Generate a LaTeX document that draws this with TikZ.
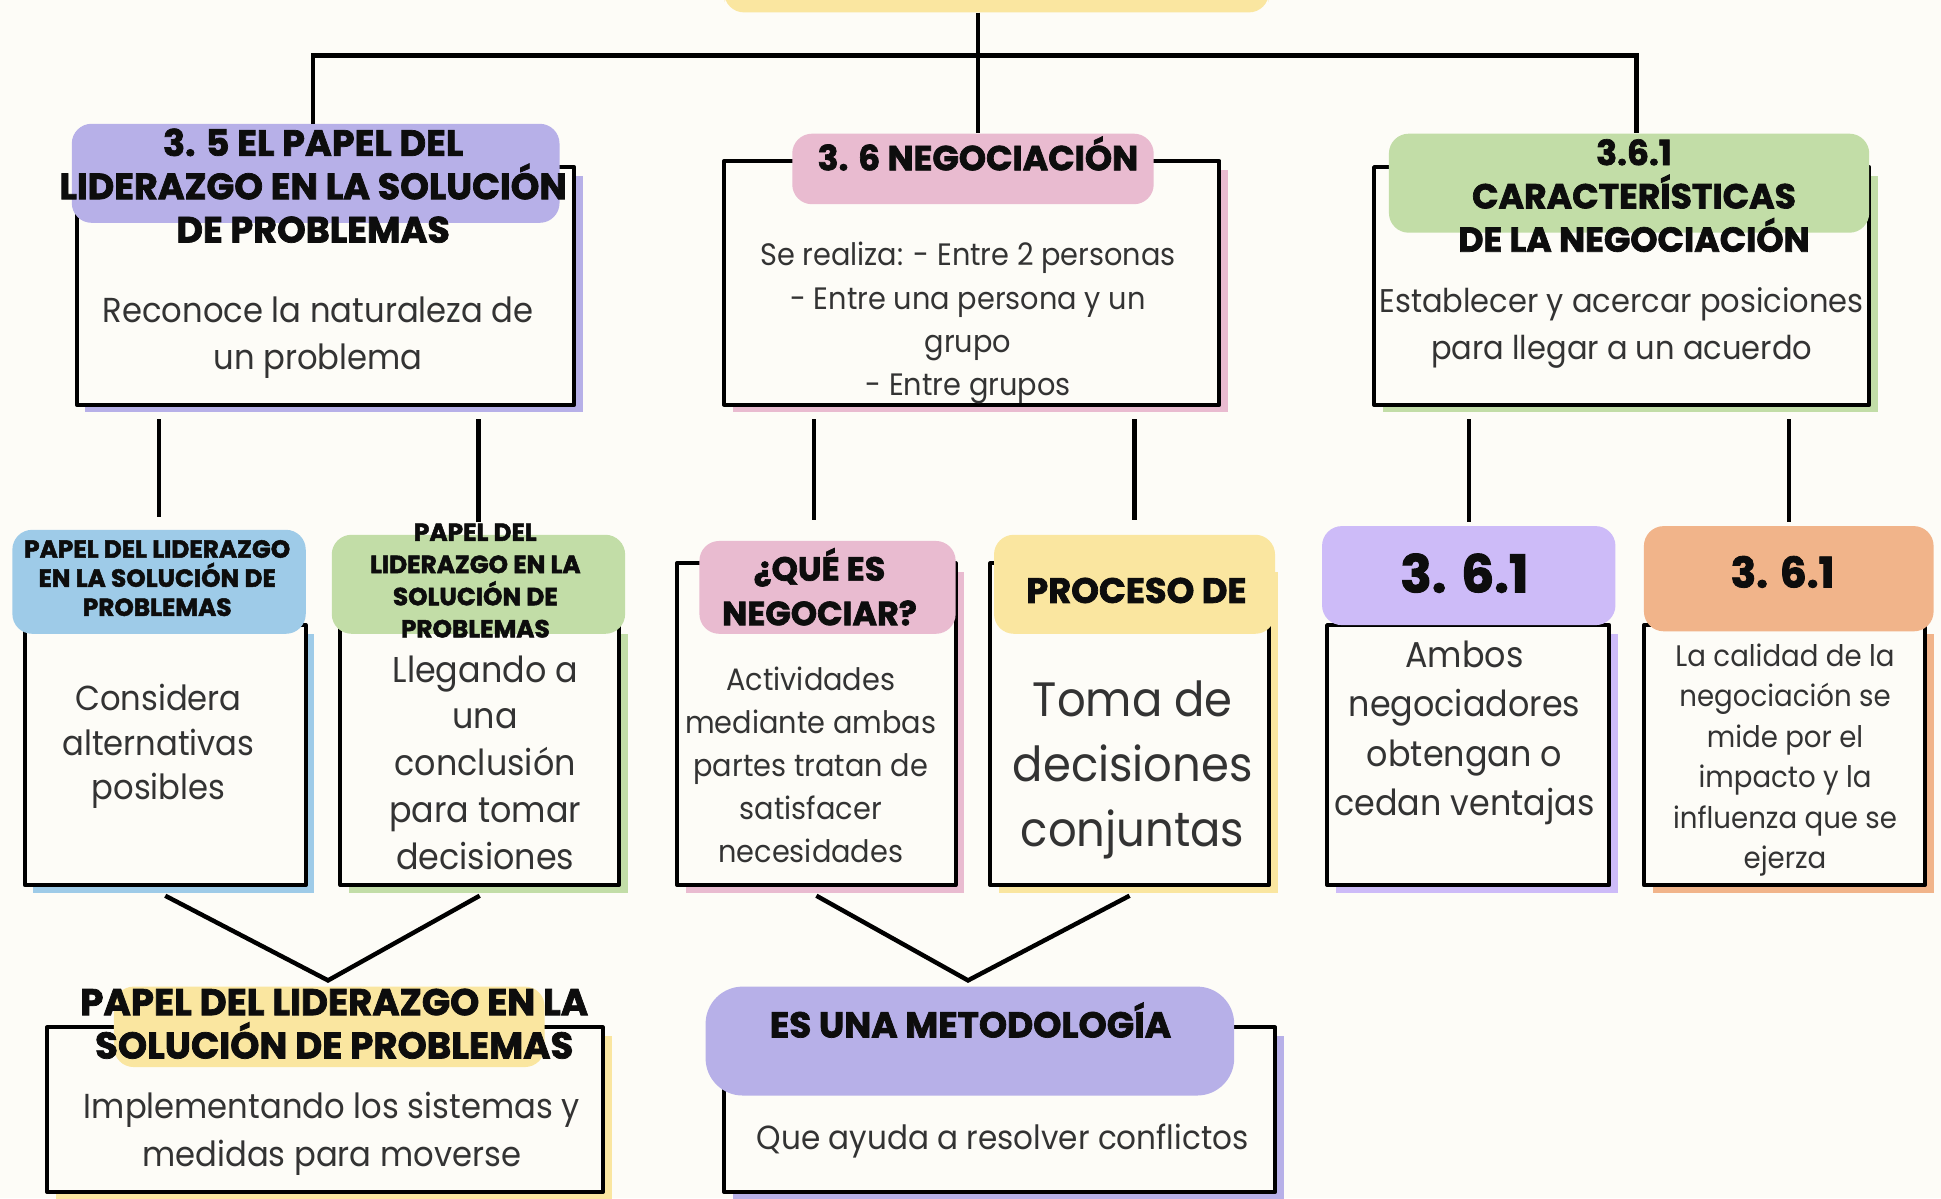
\documentclass[tikz,border=0pt]{standalone}
\usepackage{fontspec}
\setmainfont{Poppins}
\newfontfamily\titlef{Poppins}[FakeStretch=1.0, FakeBold=2]
\newfontfamily\bodyf{Poppins}[FakeStretch=0.93]
\usetikzlibrary{fit,calc}
\definecolor{bgc}{HTML}{FDFCF7}
\definecolor{ink}{HTML}{0D0D0D}
\definecolor{txt}{HTML}{333333}
\definecolor{purpA}{HTML}{B7B0E8}
\definecolor{pinkB}{HTML}{E9BBD0}
\definecolor{greenC}{HTML}{C2DDA7}
\definecolor{blueD}{HTML}{9ECBE8}
\definecolor{yelG}{HTML}{FAE6A0}
\definecolor{lavH}{HTML}{CDBBF8}
\definecolor{orI}{HTML}{F1B48A}
\tikzset{
  frm/.style={draw=black, line width=3.2pt, fill=bgc, inner sep=0pt, line join=round},
  hdr/.style={rounded corners=16pt, inner sep=0pt, draw=none},
  ttl/.style={text=ink, align=center, inner sep=0pt},
  bdy/.style={text=txt, align=center, inner sep=0pt},
  conn/.style={draw=black, line width=3.6pt},
}
\newcommand\mkframe[6]{%
  \fill[#6] (#2+7,#3+7) rectangle (#4+7,#5+6);
  \node[frm, fit={(#2,#3) (#4,#5)}] (#1) {};}
\newcommand\tsz[2]{\titlef\bfseries\fontsize{#1}{#2}\selectfont}
\newcommand\bsz[2]{\bodyf\fontsize{#1}{#2}\selectfont}
\begin{document}
\begin{tikzpicture}[x=1pt,y=-1pt]
\useasboundingbox (0,0) rectangle (1568,968);
\fill[bgc] (0,0) rectangle (1568,968);

% top bar
\node[hdr, fill=yelG, fit={(585,-14) (1025,10)}] (top) {};

% ---------- row 1 ----------
\mkframe{fA}{62}{135}{464}{327}{purpA}
\node[hdr, fill=purpA, fit={(58,100) (452,180)}] (hA) {};
\node[ttl, font=\tsz{29.5}{35}] (tA) at (253,150) {3. 5 EL PAPEL DEL\\LIDERAZGO EN LA SOLUCIÓN\\DE PROBLEMAS};
\node[bdy, font=\bsz{28}{38}] (bA) at (257,273) {Reconoce la naturaleza de\\un problema};

\mkframe{fB}{585}{130}{985}{327}{pinkB}
\node[hdr, fill=pinkB, fit={(640,108) (932,165)}] (hB) {};
\node[ttl, font=\tsz{28}{34}] (tB) at (790,124) {3. 6 NEGOCIACIÓN};
\node[bdy, font=\bsz{25}{35}] (bB) at (782,261) {Se realiza: - Entre 2 personas\\- Entre una persona y un\\grupo\\- Entre grupos};

\mkframe{fC}{1110}{135}{1510}{327}{greenC}
\node[hdr, fill=greenC, fit={(1122,108) (1510,188)}] (hC) {};
\node[ttl, font=\tsz{28}{35}] (tC) at (1320,158) {3.6.1\\CARACTERÍSTICAS\\DE LA NEGOCIACIÓN};
\node[bdy, font=\bsz{26.5}{38}] (bC) at (1310,265) {Establecer y acercar posiciones\\para llegar a un acuerdo};

% top connectors
\coordinate (jn) at (790,45);
\draw[conn] ([xshift=4pt]hB.north |- top.south) -- ([xshift=4pt]hB.north);
\draw[conn] ([xshift=-2pt]hA.north) |- (jn) -| ([xshift=6pt]hC.north);

% ---------- row 2 ----------
\mkframe{fD}{20}{505}{247}{715}{blueD}
\node[hdr, fill=blueD, fit={(10,428) (247,512)}] (hD) {};
\node[ttl, font=\tsz{20}{23.5}] (tD) at (127,467) {PAPEL DEL LIDERAZGO\\EN LA SOLUCIÓN DE\\PROBLEMAS};
\node[bdy, font=\bsz{28}{36}] (bD) at (128,603) {Considera\\alternativas\\posibles};

\mkframe{fE}{275}{505}{500}{715}{greenC}
\node[hdr, fill=greenC, fit={(268,432) (505,512)}] (hE) {};
\node[ttl, font=\tsz{20}{26}] (tE) at (384,469) {PAPEL DEL\\LIDERAZGO EN LA\\SOLUCIÓN DE\\PROBLEMAS};
\node[bdy, font=\bsz{29}{37.75}] (bE) at (392,616) {Llegando a\\una\\conclusión\\para tomar\\decisiones};

\mkframe{fF}{547}{455}{772}{715}{pinkB}
\node[hdr, fill=pinkB, fit={(565,437) (772,512)}] (hF) {};
\node[ttl, font=\tsz{27}{36}] (tF) at (662,474) {¿QUÉ ES\\NEGOCIAR?};
\node[bdy, font=\bsz{25}{34.75}] (bF) at (655,618) {Actividades\\mediante ambas\\partes tratan de\\satisfacer\\necesidades};

\mkframe{fG}{800}{455}{1025}{715}{yelG}
\node[hdr, fill=yelG, fit={(803,432) (1030,512)}] (hG) {};
\node[ttl, font=\tsz{28.5}{34}] (tG) at (918,477) {PROCESO DE};
\node[bdy, font=\bsz{39}{52.5}] (bG) at (915,622) {Toma de\\decisiones\\conjuntas};

\mkframe{fH}{1072}{505}{1300}{715}{lavH}
\node[hdr, fill=lavH, fit={(1068,425) (1305,505)}] (hH) {};
\node[ttl, font=\tsz{42}{46}] (tH) at (1183,463) {3. 6.1};
\node[bdy, font=\bsz{29}{39.7}] (bH) at (1183,592) {Ambos\\negociadores\\obtengan o\\cedan ventajas};

\mkframe{fI}{1328}{505}{1555}{715}{orI}
\node[hdr, fill=orI, fit={(1328,425) (1562,510)}] (hI) {};
\node[ttl, font=\tsz{34}{40}] (tI) at (1440,462) {3. 6.1};
\node[bdy, font=\bsz{24}{32.6}] (bI) at (1442,614) {La calidad de la\\negociación se\\mide por el\\impacto y la\\influenza que se\\ejerza};

% row 1 -> row 2 connectors
\draw[conn, shorten <=10pt, shorten >=10pt] (fA.south -| hD.north) -- (hD.north);
\draw[conn, shorten <=10pt, shorten >=10pt] (fA.south -| hE.north) -- (hE.north);
\draw[conn, shorten <=10pt, shorten >=17pt] ([xshift=-11pt]fB.south -| hF.north) -- ([xshift=-11pt]hF.north);
\draw[conn, shorten <=10pt, shorten >=12pt] (fB.south -| hG.north) -- (hG.north);
\draw[conn, shorten <=10pt, shorten >=3pt] (fC.south -| hH.north) -- (hH.north);
\draw[conn, shorten <=10pt, shorten >=3pt] (fC.south -| hI.north) -- (hI.north);

% ---------- row 3 ----------
\mkframe{fJ}{38}{830}{487}{963}{yelG}
\node[hdr, fill=yelG, fit={(92,797) (440,862)}] (hJ) {};
\node[ttl, font=\tsz{30}{35}] (tJ) at (270,827) {PAPEL DEL LIDERAZGO EN LA\\SOLUCIÓN DE PROBLEMAS};
\node[bdy, font=\bsz{28}{39}] (bJ) at (268,916) {Implementando los sistemas y\\medidas para moverse};

\mkframe{fK}{585}{830}{1030}{963}{purpA}
\node[hdr, fill=purpA, rounded corners=30pt, fit={(570,797) (997,885)}] (hK) {};
\node[ttl, font=\tsz{29}{34}] (tK) at (784,824) {ES UNA METODOLOGÍA};
\node[bdy, font=\bsz{27}{34}] (bK) at (810,922) {Que ayuda a resolver conflictos};

% V connectors
\coordinate (vJ) at (265,792);
\coordinate (vK) at (782,792);
\draw[conn, line join=miter] ([yshift=-7pt]fD.south) -- (vJ) -- ([yshift=-7pt]fE.south);
\draw[conn, line join=miter] ([yshift=-7pt]fF.south) -- (vK) -- ([yshift=-7pt]fG.south);
\end{tikzpicture}
\end{document}
